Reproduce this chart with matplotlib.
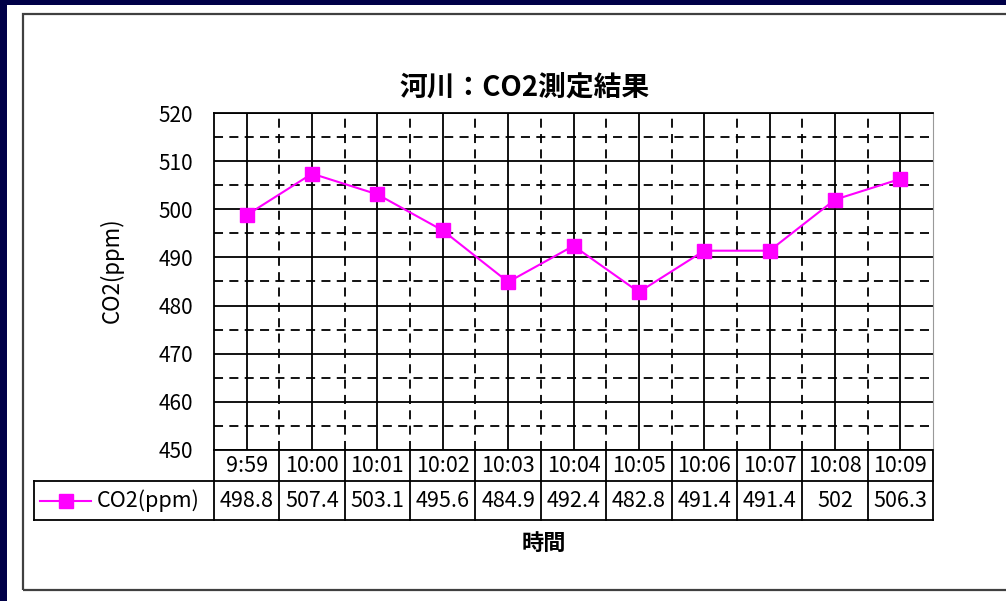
import matplotlib
matplotlib.use('Agg')
import matplotlib.pyplot as plt
from matplotlib.lines import Line2D
from matplotlib.patches import Rectangle
import numpy as np

plt.rcParams['font.family'] = ['Noto Sans CJK JP', 'DejaVu Sans']

# data
times = ['9:59', '10:00', '10:01', '10:02', '10:03', '10:04', '10:05',
         '10:06', '10:07', '10:08', '10:09']
co2 = [498.8, 507.4, 503.1, 495.6, 484.9, 492.4, 482.8, 491.4, 491.4, 502, 506.3]
co2_labels = ['498.8', '507.4', '503.1', '495.6', '484.9', '492.4', '482.8',
              '491.4', '491.4', '502', '506.3']
series_name = 'CO2(ppm)'
y_ticks = [450, 460, 470, 480, 490, 500, 510, 520]

W, H = 1006, 601
fig = plt.figure(figsize=(W / 100, H / 100), dpi=100, facecolor='#000048')
fig.patches.append(Rectangle((7 / W, 0), 1, 1 - 5 / H, transform=fig.transFigure,
                             facecolor='white', edgecolor='none', zorder=-2))
fig.patches.append(Rectangle((23 / W, 1 - 590 / H), 1, (590 - 14) / H,
                             transform=fig.transFigure, fill=False,
                             edgecolor='#404040', lw=1.6, zorder=-1))

ax = fig.add_axes([214 / W, 1 - 450 / H, 719 / W, 337 / H])
ax.set_zorder(2)
x = np.arange(len(times))
ax.plot(x, co2, color='#ff00ff', lw=1.5, marker='s', ms=10, zorder=3)
ax.set_xlim(-0.5, len(times) - 0.5)
ax.set_ylim(450, 520)
ax.set_xticks(x)
ax.set_xticks(x[:-1] + 0.5, minor=True)
ax.set_yticks(y_ticks)
ax.set_yticks([v + 5 for v in y_ticks[:-1]], minor=True)
ax.set_axisbelow(True)
ax.grid(which='major', color='black', lw=1.3)
ax.grid(which='minor', color='black', lw=1.3, ls=(0, (5, 3.5)))
ax.tick_params(which='both', length=0)
ax.tick_params(axis='x', labelbottom=False)
ax.tick_params(axis='y', labelsize=15, pad=15)
for s in ['left', 'top', 'bottom']:
    ax.spines[s].set_color('black')
    ax.spines[s].set_linewidth(1.3)
ax.spines['right'].set_color('#999999')

# data table under the axis
tx = ax.get_xaxis_transform()
def ty(py):
    return (450 - py) / 337

legend_left = (34 - 214) / 719
for py in [481, 520]:
    ax.add_line(Line2D([legend_left, 1], [ty(py)] * 2, transform=ax.transAxes,
                       color='black', lw=1.3, clip_on=False))
for b in np.arange(-0.5, len(times), 1):
    ax.add_line(Line2D([b, b], [ty(450), ty(520)], transform=tx,
                       color='black', lw=1.3, clip_on=False))
ax.add_line(Line2D([legend_left] * 2, [ty(481), ty(520)], transform=ax.transAxes,
                   color='black', lw=1.3, clip_on=False))

for i, (t, v) in enumerate(zip(times, co2_labels)):
    ax.text(i, ty(465.5), t, transform=tx, ha='center', va='center', fontsize=15.5)
    ax.text(i, ty(501), v, transform=tx, ha='center', va='center', fontsize=15.5)

# legend key inside the table
lx0, lx1 = (40 - 214) / 719, (91 - 214) / 719
ax.plot([lx0, lx1], [ty(501)] * 2, transform=ax.transAxes, color='#ff00ff',
        lw=1.5, clip_on=False)
ax.plot([(lx0 + lx1) / 2], [ty(501)], transform=ax.transAxes, color='#ff00ff',
        marker='s', ms=10, clip_on=False)
ax.text((97 - 214) / 719, ty(501), series_name, transform=ax.transAxes,
        ha='left', va='center', fontsize=15.5)

fig.text(525 / W, 1 - 88 / H, '河川：CO2測定結果', ha='center', va='center',
         fontsize=20, fontweight='bold')
fig.text(544 / W, 1 - 543 / H, '時間', ha='center', va='center',
         fontsize=16, fontweight='bold')
fig.text(112 / W, 1 - 270 / H, series_name, ha='center', va='center',
         fontsize=16, rotation=90)

fig.savefig('out.png', dpi=100, facecolor=fig.get_facecolor())
